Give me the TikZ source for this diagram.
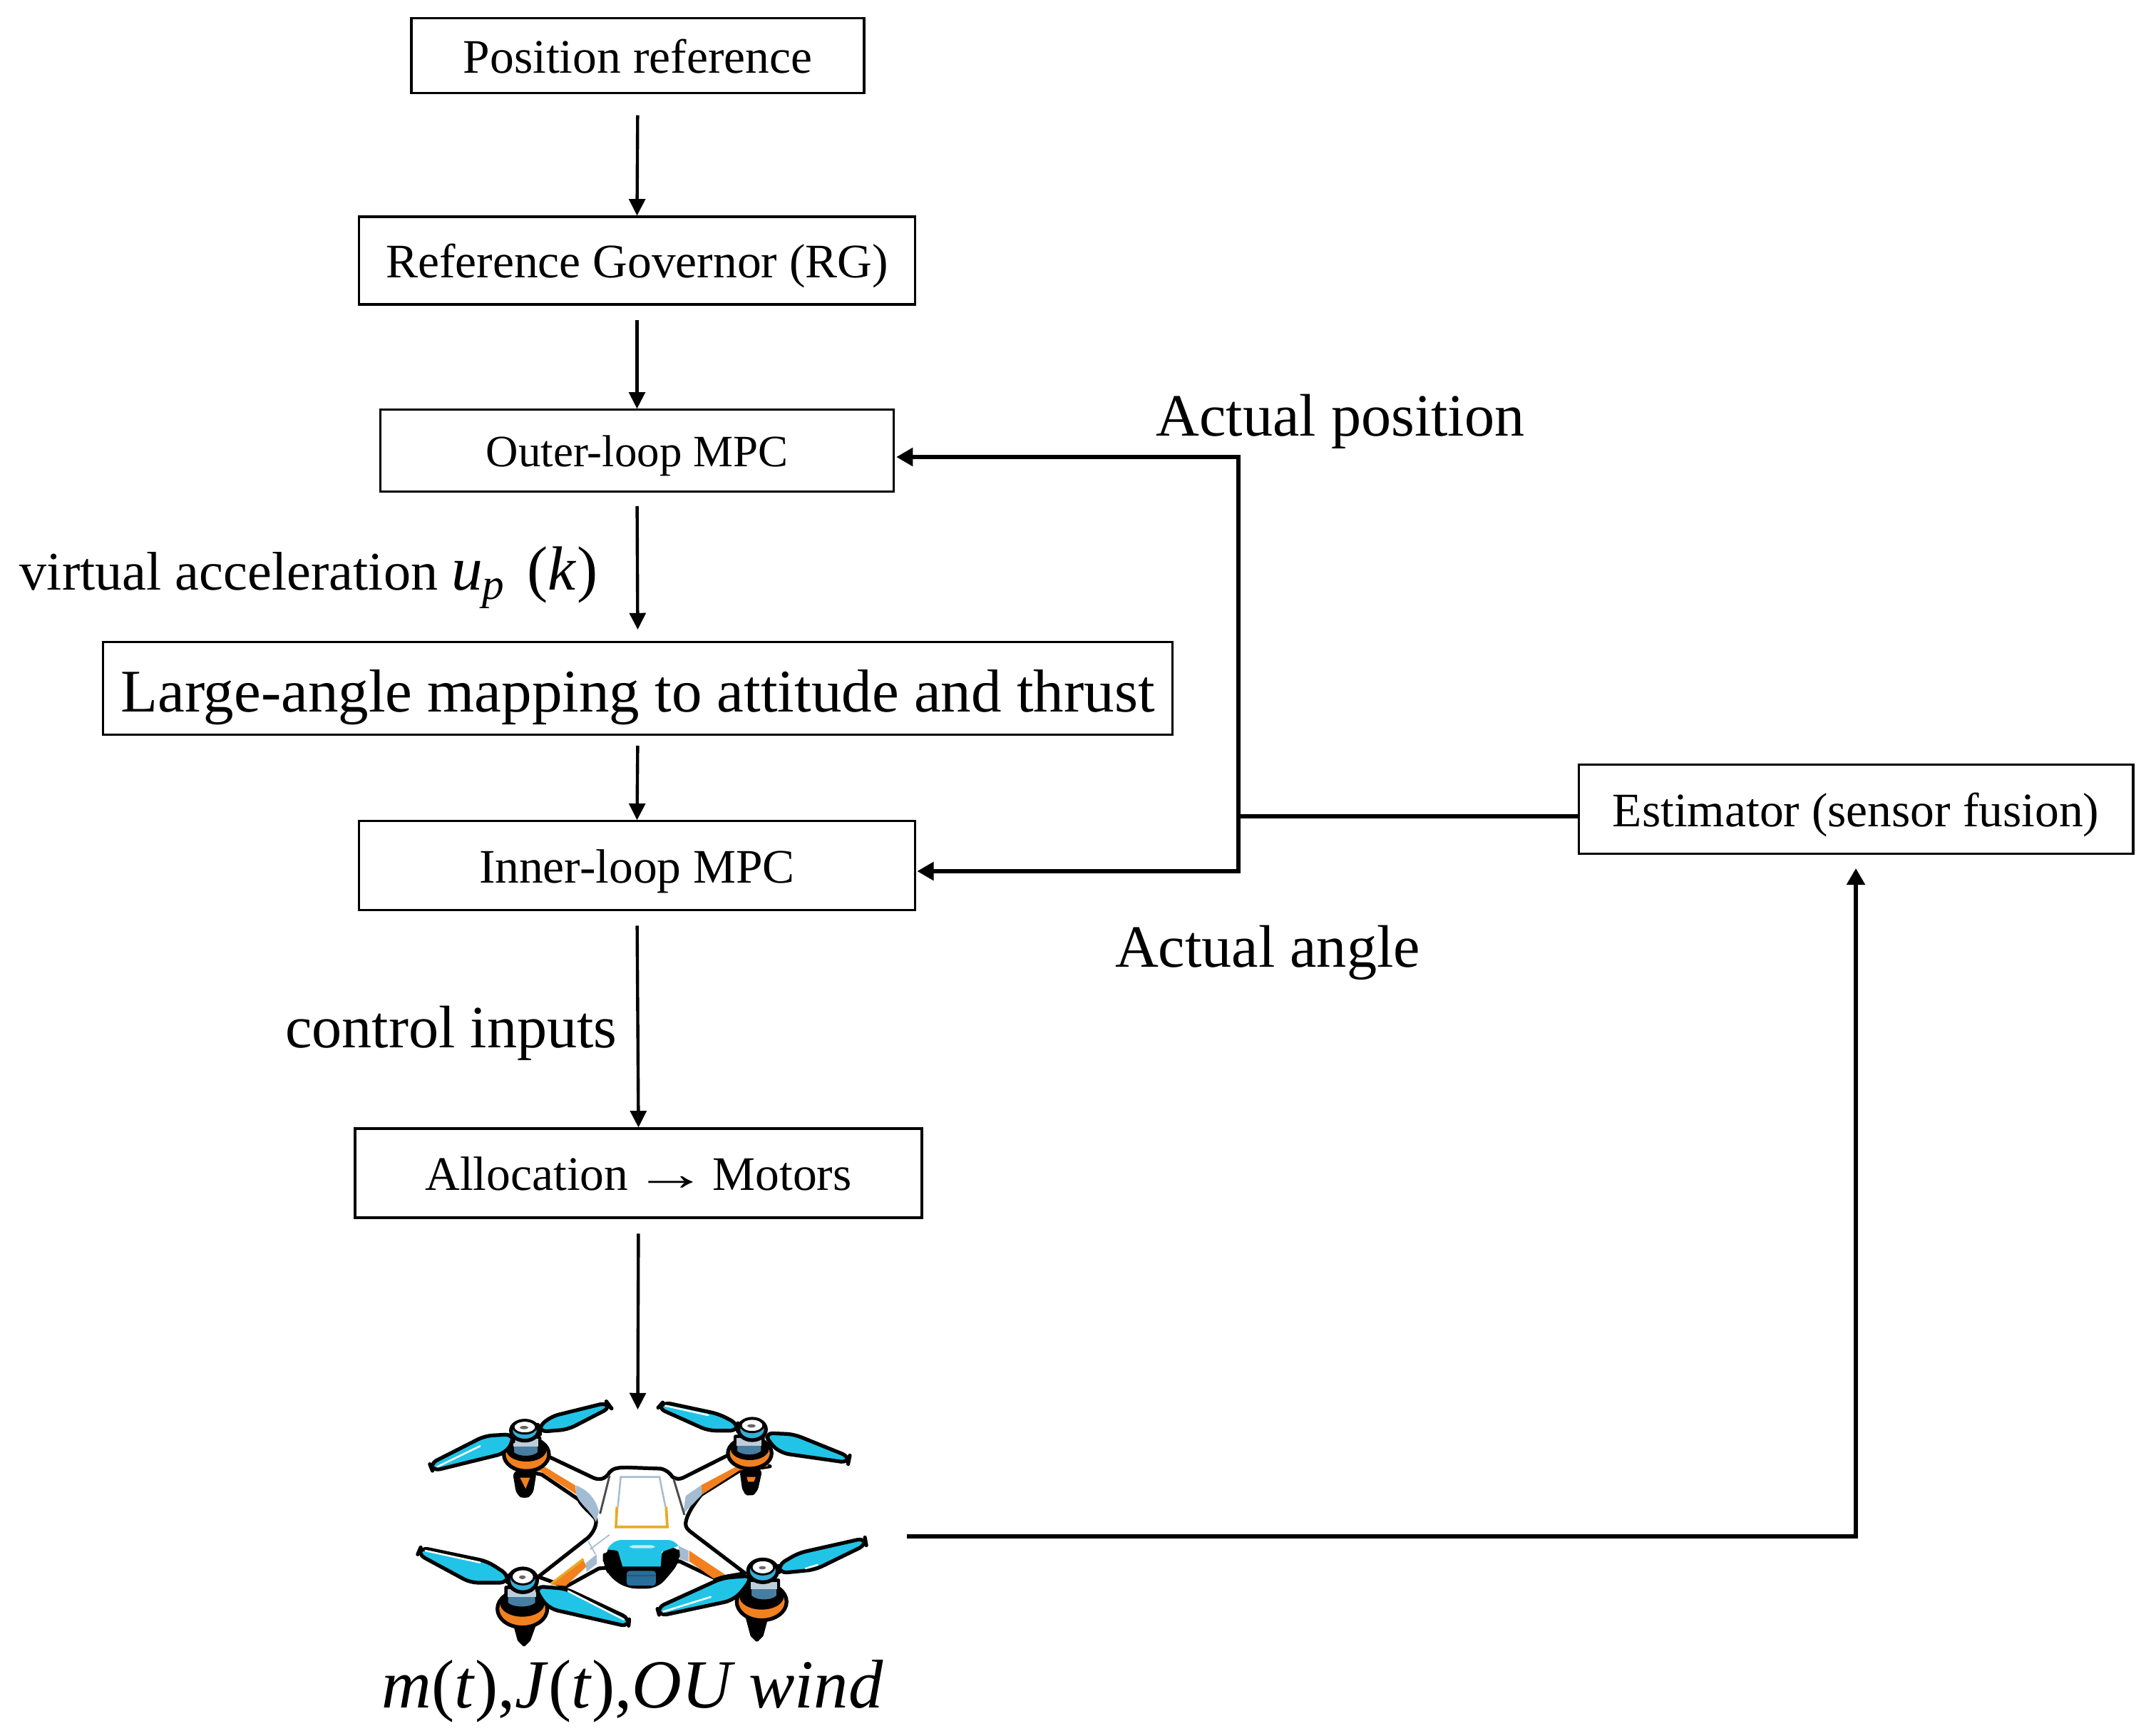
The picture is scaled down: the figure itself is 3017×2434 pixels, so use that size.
\documentclass[tikz,border=0pt]{standalone}
\usepackage{fontspec}
\setmainfont{Liberation Serif}
\usepackage{tikz}
\usetikzlibrary{arrows.meta}

\definecolor{bladeblue}{RGB}{33,196,230}
\definecolor{droneorange}{RGB}{242,128,31}
\definecolor{padgrey}{RGB}{163,188,210}
\definecolor{motorsteel}{RGB}{70,125,160}
\definecolor{motorpale}{RGB}{190,205,218}
\definecolor{hubblue}{RGB}{55,175,215}
\definecolor{trimyellow}{RGB}{232,170,40}
\definecolor{cameradeep}{RGB}{38,110,155}

\begin{document}
\begin{tikzpicture}[x=0.24pt,y=0.24pt,yscale=-1,xscale=1,
    blockbox/.style={draw,line width=0.75pt,inner sep=0pt,text height=11.6pt,text depth=0pt,font=\fontsize{16.2}{19}\selectfont},
    sidelabel/.style={inner sep=0pt,font=\fontsize{20.2}{24}\selectfont},
    signalline/.style={line width=1.05pt,-{Triangle[length=5.6pt,width=5.4pt]}},
    feedbackline/.style={line width=1.5pt},
    feedbackarrow/.style={line width=1.5pt,-{Triangle[length=5.6pt,width=6pt]}},
    blade/.style={draw=black,fill=bladeblue,line width=1.25pt,rounded corners=2.5pt,line join=round},
    bladeshine/.style={draw=white,line width=0.6pt,line cap=round},
    dronepart/.style={draw=black,line width=1.25pt,line join=round}]
    \useasboundingbox (0,0) rectangle (3017,2434);

    % Text Node
    \node (posref) at (894.5,78) [blockbox,minimum width=152.4pt,minimum height=25.4pt] {Position reference};
    % Text Node
    \node (rg) at (893.5,365.5) [blockbox,minimum width=187pt,minimum height=29.5pt] {Reference Governor (RG)};
    % Text Node
    \node (outer) at (893.5,632) [blockbox,minimum width=173pt,minimum height=27.4pt,text height=11pt,font=\fontsize{15.1}{18}\selectfont] {Outer-loop MPC};
    % Text Node
    \node (mapping) at (894.5,965.5) [blockbox,minimum width=360pt,minimum height=31.4pt,text height=16pt,font=\fontsize{20.4}{24}\selectfont] {Large-angle mapping to attitude and thrust};
    % Text Node
    \node (inner) at (893.5,1214) [blockbox,minimum width=187pt,minimum height=29.8pt] {Inner-loop MPC};
    % Text Node
    \node (alloc) at (895.5,1645.5) [blockbox,minimum width=190.8pt,minimum height=30pt] {Allocation \hspace{-2.4pt}\scalebox{1.55}[1]{→}\hspace{-2.4pt} Motors};
    % Text Node
    \node (est) at (2603,1135) [blockbox,minimum width=186.7pt,minimum height=29.8pt] {Estimator (sensor fusion)};
    %Drone frame, nothing drawn on it
    \node (drone) at (894.5,2155) [inner sep=0pt,minimum width=181pt,minimum height=85pt] {};

    % Text Node
    \node (lblposition) at (1880,591) [sidelabel] {Actual position};
    % Text Node
    \node (lblangle) at (1778,1336) [sidelabel] {Actual angle};
    % Text Node
    \node (lblinputs) at (633,1449) [sidelabel] {control inputs};
    % Text Node
    \node (lblaccel) at (433,810) [sidelabel,font=\fontsize{18.3}{23}\selectfont] {virtual acceleration {\fontsize{21}{24}\selectfont\textit{u}\textsubscript{\textit{p}}\hspace{2pt} (\textit{k})}};
    % Text Node
    \node (lblplant) at (887,2372) [sidelabel,font=\fontsize{23.2}{27}\selectfont] {\textit{m}(\textit{t}),\textit{J}(\textit{t}),\textit{OU wind}};

    %Straight Lines
    \draw [signalline,shorten <=7pt] (posref.south) -- (rg.north);
    \draw [signalline,shorten <=5pt] (rg.south) -- (outer.north);
    \draw [signalline,shorten <=4.6pt,shorten >=3.7pt] (outer.south) -- (mapping.north);
    \draw [signalline,shorten <=3.2pt] (mapping.south) -- (inner.north);
    \draw [signalline,shorten <=5pt] (inner.south) -- (alloc.north);
    \draw [signalline,shorten <=5pt] (alloc.south) -- (drone.north);

    %Feedback lines
    \coordinate (fbjoint) at (1737,1145);
    \coordinate (fbtop) at (1737,641);
    \coordinate (fbbot) at (1737,1222);
    \draw [feedbackline] (est.west |- fbjoint) -- (fbjoint);
    \draw [feedbackarrow,shorten >=0.4pt] (fbjoint) -- (fbtop) -- (outer.east |- fbtop);
    \draw [feedbackarrow,shorten >=0.4pt] (fbjoint) -- (fbbot) -- (inner.east |- fbbot);
    \draw [feedbackarrow,shorten >=4.6pt] (drone.east) -| (est.south);

    %Shape: Drone
    \begin{scope}[shift={(580,1960)},scale=0.3333]
        %Legs behind the motors
        \draw [dronepart,fill=black,rounded corners=1.5pt] (425,315) -- (440,405) -- (467,420) -- (495,405) -- (510,315) -- cycle;
        \fill [droneorange] (448,338) -- (490,338) -- (472,385) -- cycle;
        \draw [dronepart,fill=black,rounded corners=1.5pt] (1380,305) -- (1392,395) -- (1415,410) -- (1440,395) -- (1460,305) -- cycle;
        \fill [droneorange] (1402,335) -- (1440,335) -- (1432,355) -- (1408,355) -- cycle;
        \draw [dronepart,fill=black] (430,965) -- (445,1020) -- (465,1040) -- (485,1020) -- (505,965) -- cycle;
        \draw [dronepart,fill=black] (1405,925) -- (1425,1000) -- (1445,1020) -- (1465,1000) -- (1485,925) -- cycle;

        %Body
        \draw [dronepart,fill=white] (570,250) -- (760,340) .. controls (790,350) and (810,340) .. (825,315) .. controls (840,298) and (860,295) .. (900,295) -- (1040,300) .. controls (1065,305) and (1080,320) .. (1090,335) .. controls (1105,345) and (1120,345) .. (1135,338) -- (1320,245) -- (1500,290) -- (1370,310) -- (1210,410) .. controls (1180,450) and (1150,490) .. (1145,530) .. controls (1145,550) and (1155,555) .. (1165,565) -- (1395,740) -- (1270,762) -- (1120,690) -- (780,720) -- (640,797) -- (525,755) -- (735,590) .. controls (760,565) and (775,530) .. (765,510) .. controls (740,480) and (710,460) .. (695,430) -- (540,325) -- (430,300) -- cycle;

        %Orange arm strips
        \fill [droneorange] (420,255) -- (540,285) -- (680,370) -- (685,408) -- (535,312) -- (430,298) -- cycle;
        \fill [droneorange] (1500,265) -- (1370,285) -- (1210,370) -- (1215,408) -- (1370,308) -- (1490,290) -- cycle;
        \fill [droneorange] (1160,645) -- (1310,745) -- (1262,762) -- (1160,690) -- cycle;
        \fill [droneorange] (715,685) -- (728,712) -- (640,794) -- (580,788) -- cycle;
        \draw [line width=0.8pt,draw=trimyellow] (715,680) -- (578,785);

        %Grey pads
        \fill [padgrey] (682,370) .. controls (725,385) and (765,420) .. (780,480) -- (768,525) .. controls (745,475) and (700,450) .. (685,410) -- cycle;
        \fill [padgrey] (1210,370) -- (1145,415) -- (1135,490) -- (1215,408) -- cycle;
        \fill [padgrey] (725,698) -- (770,660) -- (772,700) -- (728,735) -- cycle;
        \fill [padgrey] (1115,625) -- (1157,645) -- (1157,692) -- (1120,680) -- cycle;

        %Body top panel lines
        \draw [line width=0.7pt,draw=black!70] (825,330) -- (785,490);
        \draw [line width=0.7pt,draw=black!70] (1095,345) -- (1140,495);
        \draw [line width=0.6pt,draw=padgrey] (860,460) -- (872,335) -- (1035,335) -- (1060,460);
        \draw [line width=0.9pt,draw=trimyellow] (856,460) -- (852,545) -- (1068,545) -- (1063,460);
        \draw [line width=0.4pt,draw=padgrey] (825,578) -- (742,640);
        \draw [line width=0.4pt,draw=padgrey] (735,605) -- (765,660);

        %Camera housing
        \draw [dronepart,fill=black,rounded corners=3pt] (805,650) -- (860,640) -- (885,705) -- (1040,705) -- (1045,650) -- (1110,630) -- (1115,685) -- (1070,745) -- (1020,797) -- (900,797) -- (830,750) -- (805,700) -- cycle;
        \fill [bladeblue] (815,640) .. controls (830,615) and (850,600) .. (880,600) -- (1070,600) .. controls (1090,600) and (1105,612) .. (1115,625) -- (1045,650) -- (1040,712) -- (880,712) -- (860,645) -- cycle;
        \fill [white!70!bladeblue,rounded corners=1pt] (910,622) rectangle (1015,635);
        \fill [cameradeep,rounded corners=1pt] (897,730) rectangle (1020,792);
        \draw [line width=0.5pt,draw=black!70] (897,750) -- (1020,750);

        %Motor bases
        \draw [dronepart,fill=droneorange] (475,240) ellipse [x radius=95,y radius=70];
        \fill [black] (475,222) ellipse [x radius=84,y radius=48];
        \draw [dronepart,fill=droneorange] (1415,235) ellipse [x radius=92,y radius=65];
        \fill [black] (1415,218) ellipse [x radius=80,y radius=46];
        \draw [dronepart,fill=droneorange] (458,890) ellipse [x radius=105,y radius=78];
        \fill [black] (458,868) ellipse [x radius=93,y radius=55];
        \draw [dronepart,fill=droneorange] (1465,860) ellipse [x radius=105,y radius=78];
        \fill [black] (1465,838) ellipse [x radius=93,y radius=55];

        %Motor cylinders
        \draw [dronepart,fill=motorsteel] (415,170) -- (530,170) -- (530,235) .. controls (505,260) and (440,260) .. (415,235) -- cycle;
        \fill [motorpale] (420,175) rectangle (525,208);
        \draw [dronepart,fill=motorsteel] (1355,165) -- (1470,165) -- (1470,230) .. controls (1445,255) and (1380,255) .. (1355,230) -- cycle;
        \fill [motorpale] (1360,170) rectangle (1465,203);
        \draw [dronepart,fill=motorsteel] (390,800) -- (520,800) -- (520,868) .. controls (495,895) and (415,895) .. (390,868) -- cycle;
        \fill [motorpale] (395,808) rectangle (515,840);
        \draw [dronepart,fill=motorsteel] (1415,770) -- (1535,770) -- (1535,838) .. controls (1510,865) and (1440,865) .. (1415,838) -- cycle;
        \fill [motorpale] (1420,778) rectangle (1530,808);

        %Blades
        \draw [blade] (418,155) -- (300,162) -- (68,280) -- (80,310) -- (385,235) -- (420,185) -- cycle;
        \draw [bladeshine] (100,292) -- (280,205);
        \draw [blade] (525,125) -- (580,80) -- (815,22) -- (830,42) -- (650,135) -- (530,145) -- cycle;
        \draw [blade] (1365,112) -- (1285,70) -- (1050,20) -- (1028,45) -- (1240,140) -- (1365,140) -- cycle;
        \draw [bladeshine] (1060,35) -- (1240,75);
        \draw [blade] (1480,150) -- (1600,155) -- (1835,250) -- (1830,275) -- (1550,235) -- (1500,195) -- cycle;
        \draw [blade] (400,748) -- (310,690) -- (30,632) -- (18,660) -- (240,780) -- (395,780) -- cycle;
        \draw [bladeshine] (50,645) -- (280,695);
        \draw [blade] (515,795) -- (640,805) -- (908,930) -- (905,965) -- (575,890) -- (530,840) -- cycle;
        \draw [bladeshine] (650,815) -- (885,935);
        \draw [blade] (1425,750) -- (1300,760) -- (1025,885) -- (1035,920) -- (1340,855) -- (1390,810) -- cycle;
        \draw [bladeshine] (1050,902) -- (1250,840);
        \draw [blade] (1535,705) -- (1620,655) -- (1900,592) -- (1905,620) -- (1690,725) -- (1540,740) -- cycle;
        \draw [bladeshine] (1650,720) -- (1700,705);

        %Hubs
        \draw [dronepart,fill=hubblue] (468,140) ellipse [x radius=58,y radius=42];
        \draw [dronepart,fill=white,line width=0.7pt] (468,125) ellipse [x radius=48,y radius=27];
        \fill [black!60] (465,127) ellipse [x radius=18,y radius=7];
        \draw [dronepart,fill=hubblue] (1425,135) ellipse [x radius=58,y radius=45];
        \draw [dronepart,fill=white,line width=0.7pt] (1425,118) ellipse [x radius=48,y radius=28];
        \fill [black!60] (1422,120) ellipse [x radius=18,y radius=7];
        \draw [dronepart,fill=hubblue] (460,770) ellipse [x radius=60,y radius=50];
        \draw [dronepart,fill=white,line width=0.7pt] (460,755) ellipse [x radius=48,y radius=32];
        \fill [black!60] (458,757) ellipse [x radius=14,y radius=8];
        \draw [dronepart,fill=hubblue] (1470,730) ellipse [x radius=62,y radius=48];
        \draw [dronepart,fill=white,line width=0.7pt] (1470,715) ellipse [x radius=48,y radius=30];
        \fill [black!60] (1468,717) ellipse [x radius=15,y radius=7];
    \end{scope}
\end{tikzpicture}
\end{document}
